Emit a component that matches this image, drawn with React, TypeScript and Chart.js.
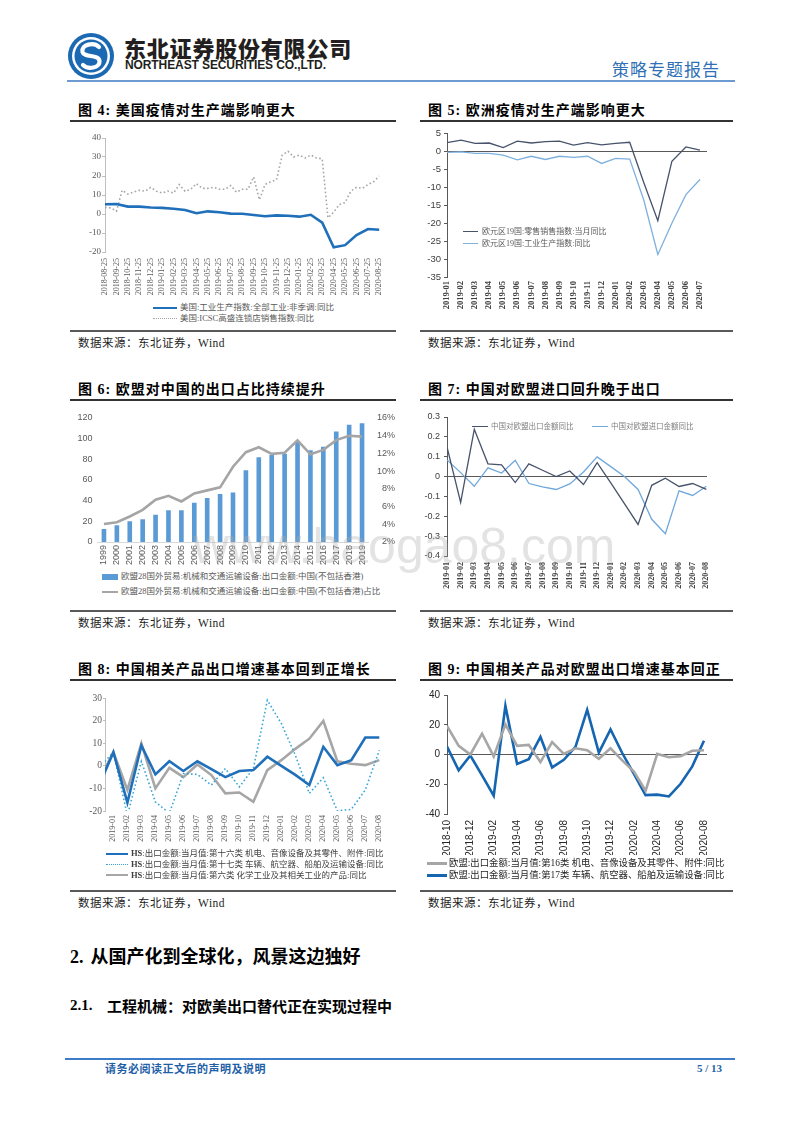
import React, { useEffect, useRef } from 'react';
import { Chart, registerables } from 'chart.js';

Chart.register(...registerables);

const SERIF = "'Liberation Serif', 'Times New Roman', 'Noto Sans CJK SC', serif";
const SANS = "'Liberation Sans', Arial, 'Noto Sans CJK SC', sans-serif";
const CJK = "'Noto Sans CJK SC', 'Liberation Sans', sans-serif";
const MIX = "'Liberation Serif', 'Noto Sans CJK SC', serif";

// ---------- Figure 4 ----------
const f4Labels = [
  '2018-08-25', '2018-09-25', '2018-10-25', '2018-11-25', '2018-12-25',
  '2019-01-25', '2019-02-25', '2019-03-25', '2019-04-25', '2019-05-25', '2019-06-25',
  '2019-07-25', '2019-08-25', '2019-09-25', '2019-10-25', '2019-11-25', '2019-12-25',
  '2020-01-25', '2020-02-25', '2020-03-25', '2020-04-25', '2020-05-25', '2020-06-25',
  '2020-07-25', '2020-08-25',
];
const f4Industrial = [5.1, 5.3, 3.9, 3.9, 3.4, 3.2, 2.8, 2.1, 0.4, 1.4, 0.9, 0.2, 0.1, -0.5, -1.2, -0.7, -0.9, -1.4, -0.4, -4.6, -17.5, -16.4, -11.1, -7.9, -8.3];
// ICSC index, read twice per month
const f4ICSC = [3.5, 3.2, 1.5, 12.5, 10.5, 11.5, 12.5, 12, 14, 12, 11, 12, 11, 15.5, 12, 13, 16, 13.5, 13.5, 14, 13, 13, 15, 11.5, 13, 13, 19.5, 7.5, 15.5, 17, 18, 31, 33, 30, 31, 29.5, 31, 29.5, 29, -2, 1, 5, 6, 12, 14, 13.5, 15.5, 17, 20];

// ---------- Figure 5 ----------
const f5Labels = ['2019-01', '2019-02', '2019-03', '2019-04', '2019-05', '2019-06', '2019-07', '2019-08', '2019-09', '2019-10', '2019-11', '2019-12', '2020-01', '2020-02', '2020-03', '2020-04', '2020-05', '2020-06', '2020-07'];
const f5Retail = [2.5, 3.2, 2.3, 2.4, 1.1, 2.9, 2.4, 2.8, 2.9, 1.8, 2.5, 1.9, 2.3, 2.6, -8.6, -19.3, -2.7, 1.3, 0.4];
const f5Industry = [-0.2, -0.1, -0.5, -0.5, -1.0, -2.3, -1.3, -2.2, -1.3, -1.6, -1.3, -3.3, -1.9, -2.1, -13.5, -28.7, -20.0, -12.0, -7.8];

// ---------- Figure 6 ----------
const f6Years = ['1999', '2000', '2001', '2002', '2003', '2004', '2005', '2006', '2007', '2008', '2009', '2010', '2011', '2012', '2013', '2014', '2015', '2016', '2017', '2018', '2019'];
const f6Exports = [12.6, 16.2, 20.1, 22, 26.3, 30.8, 30.8, 38, 42.5, 46.4, 48, 69.4, 82, 84.3, 85.3, 97.3, 88.9, 92.1, 107, 113.5, 115];
const f6Share = [4.04, 4.23, 4.88, 5.63, 6.77, 7.22, 6.58, 7.49, 7.83, 8.17, 10.5, 12.14, 12.7, 11.95, 12.07, 13.47, 11.9, 12.4, 13.5, 14.0, 13.9];

// ---------- Figure 7 ----------
const f7Labels = ['2019-01', '2019-02', '2019-03', '2019-04', '2019-05', '2019-06', '2019-07', '2019-08', '2019-09', '2019-10', '2019-11', '2019-12', '2020-01', '2020-02', '2020-03', '2020-04', '2020-05', '2020-06', '2020-07', '2020-08'];
const f7Export = [0.149, -0.13, 0.238, 0.064, 0.059, -0.03, 0.064, 0.032, 0.0, 0.028, -0.04, 0.07, -0.032, -0.136, -0.241, -0.044, -0.008, -0.05, -0.035, -0.064];
const f7Import = [0.084, 0.02, -0.049, 0.044, 0.018, 0.082, -0.035, -0.052, -0.065, -0.037, 0.023, 0.099, 0.05, 0.0, -0.065, -0.215, -0.288, -0.072, -0.095, -0.049];

// ---------- Figure 8 ----------
// first value is 2018-12, only partly visible at the left edge
const f8Labels = ['2019-01', '2019-02', '2019-03', '2019-04', '2019-05', '2019-06', '2019-07', '2019-08', '2019-09', '2019-10', '2019-11', '2019-12', '2020-01', '2020-02', '2020-03', '2020-04', '2020-05', '2020-06', '2020-07', '2020-08'];
const f8Mech = [-8.3, 6, -16.3, 9, -3.8, 2, -2.3, 2, -1.5, -5, -2.3, -1.9, 4, 0, -4, -8.5, 8.4, 0.3, 2.5, 12.5, 12.5];
const f8Vehicle = [-0.7, 6, -22, 2, -16, -21, -3.5, -3.8, -8.5, -1.2, -9.3, -1.2, 29, 18.7, 4.7, -12.2, -5.3, -19.9, -19.3, -10.7, 6.9];
const f8Chem = [-6, 6, -10.7, 9.9, -10, -0.9, -5, 0.6, -4.1, -12.2, -11.8, -15.9, -1.9, 2.5, 7.5, 12, 19.9, 2, 0.9, 0.3, 2.5];

// ---------- Figure 9 ----------
const f9Labels = ['2018-10', '2018-11', '2018-12', '2019-01', '2019-02', '2019-03', '2019-04', '2019-05', '2019-06', '2019-07', '2019-08', '2019-09', '2019-10', '2019-11', '2019-12', '2020-01', '2020-02', '2020-03', '2020-04', '2020-05', '2020-06', '2020-07', '2020-08'];
const f9Mech = [19.2, 5.8, 0, 14, -1.3, 20.3, 5.8, 6.5, -5.1, 8.3, 0.4, 4.2, 2.9, -2.9, 4.2, -4, -11.4, -24.4, 0.4, -1.8, -1.1, 2.5, 2.9];
const f9Vehicle = [5.4, -10.7, -0.7, -14, -27.7, 32.8, -6.3, -3.1, 11.8, -8.7, -3.6, 5.1, 30, 1.3, 16.8, 1, -13, -27.3, -27, -28.2, -19.7, -8, 9.2];

// ---------- helpers ----------
const xy = (arr: number[], offset = 0, step = 1) => arr.map((y, i) => ({ x: i * step + offset, y }));
const ds = (data: any, color: string, width: number, dash: number[] = []) => ({
  data, borderColor: color, backgroundColor: color, borderWidth: width, borderDash: dash,
  pointRadius: 0, tension: 0, fill: false,
});
const base = (pad: any) => ({
  responsive: false, animation: false, events: [],
  layout: { padding: pad },
  plugins: { legend: { display: false }, tooltip: { enabled: false }, title: { display: false } },
});
const monthX = (labels: string[], min: number, max: number, h: number, pad: number, font: any, color: string, every = 1) => ({
  type: 'linear', min, max,
  afterBuildTicks: (s: any) => { s.ticks = labels.map((_, i) => ({ value: i })).filter((t) => t.value % every === 0); },
  afterFit: (s: any) => { s.height = h; },
  grid: { display: false, drawTicks: false },
  border: { display: false },
  ticks: { autoSkip: false, minRotation: 90, maxRotation: 90, padding: pad, color, font, callback: (v: any) => labels[v] ?? '' },
});
const zeroGrid = (c: string) => ({
  drawOnChartArea: true, drawTicks: true, tickLength: 3, tickColor: c, lineWidth: 1,
  color: (ctx: any) => (ctx.tick && Math.abs(ctx.tick.value) < 1e-9 ? c : 'rgba(0,0,0,0)'),
});

const cfg4 = () => ({
  type: 'line',
  data: { datasets: [ds(xy(f4Industrial), '#1f6fba', 2.6), ds(xy(f4ICSC, 0, 0.5), '#a6a6a6', 1.6, [1.6, 2.4])] },
  options: {
    ...base({ top: 13, right: 10, left: 0, bottom: 0 }),
    scales: {
      x: monthX(f4Labels, 0, 24, 48, 6, { family: SERIF, size: 8 }, '#595959'),
      y: {
        min: -20, max: 40, afterFit: (s: any) => { s.width = 35; },
        grid: { drawOnChartArea: false, drawTicks: true, tickLength: 3, tickColor: '#bfbfbf', color: '#bfbfbf' },
        border: { display: true, color: '#bfbfbf' },
        ticks: { stepSize: 10, padding: 1, color: '#595959', font: { family: SERIF, size: 9 } },
      },
    },
  },
});

const cfg5 = () => ({
  type: 'line',
  data: { datasets: [ds(xy(f5Retail), '#46536a', 1.3), ds(xy(f5Industry), '#7eb1de', 1.3)] },
  options: {
    ...base({ top: 6, right: 28, left: 0, bottom: 0 }),
    scales: {
      x: monthX(f5Labels, 0, 18.5, 53, 4, { family: SERIF, size: 8.5, weight: 'bold' }, '#404040'),
      y: {
        min: -35, max: 5, afterFit: (s: any) => { s.width = 27; },
        grid: zeroGrid('#595959'),
        border: { display: true, color: '#595959' },
        ticks: { stepSize: 5, padding: 3, color: '#404040', font: { family: SANS, size: 9.5 } },
      },
    },
  },
});

const cfg6 = () => ({
  type: 'bar',
  data: {
    labels: f6Years,
    datasets: [
      { type: 'line', data: f6Share, borderColor: '#a5a5a5', backgroundColor: '#a5a5a5', borderWidth: 2.6, pointRadius: 0, tension: 0, yAxisID: 'y1', order: 1 },
      { type: 'bar', data: f6Exports, backgroundColor: '#5b9bd5', barPercentage: 0.36, categoryPercentage: 1, yAxisID: 'y', order: 2 },
    ],
  },
  options: {
    ...base({ top: 13, right: 0, left: 0, bottom: 0 }),
    scales: {
      x: {
        type: 'category', offset: true, afterFit: (s: any) => { s.height = 28; },
        grid: { display: false, drawTicks: false },
        border: { display: true, color: '#d9d9d9' },
        ticks: { autoSkip: false, minRotation: 90, maxRotation: 90, padding: 3, color: '#595959', font: { family: SANS, size: 9 } },
      },
      y: {
        position: 'left', min: 0, max: 120, afterFit: (s: any) => { s.width = 27.5; },
        grid: { display: false, drawTicks: false }, border: { display: false },
        ticks: { stepSize: 20, padding: 5, color: '#595959', font: { family: SANS, size: 9 } },
      },
      y1: {
        position: 'right', min: 2, max: 16, afterFit: (s: any) => { s.width = 26.5; },
        grid: { display: false, drawTicks: false }, border: { display: false },
        ticks: { stepSize: 2, padding: 3.5, crossAlign: 'far', color: '#595959', font: { family: SANS, size: 9 }, callback: (v: any) => v + '%' },
      },
    },
  },
});

const cfg7 = () => ({
  type: 'line',
  data: { datasets: [ds(xy(f7Export), '#46536a', 1.3), ds(xy(f7Import), '#6fa8dc', 1.3)] },
  options: {
    ...base({ top: 12, right: 28, left: 0, bottom: 0 }),
    scales: {
      x: monthX(f7Labels, 0, 19.05, 49, 6, { family: SERIF, size: 8, weight: 'bold' }, '#404040'),
      y: {
        min: -0.4, max: 0.3, afterFit: (s: any) => { s.width = 27; },
        grid: zeroGrid('#595959'),
        border: { display: true, color: '#595959' },
        ticks: { stepSize: 0.1, padding: 4, color: '#404040', font: { family: SANS, size: 9 }, callback: (v: any) => String(Number(Number(v).toFixed(1))) },
      },
    },
  },
});

const cfg8 = () => ({
  type: 'line',
  data: {
    datasets: [
      ds(xy(f8Mech, -1), '#1f6fba', 2.6),
      ds(xy(f8Vehicle, -1), '#3aa6d8', 1.6, [1.6, 2.4]),
      ds(xy(f8Chem, -1), '#a6a6a6', 2.6),
    ],
  },
  options: {
    ...base({ top: 13, right: 15, left: 0, bottom: 0 }),
    scales: {
      x: monthX(f8Labels, -0.6, 19.05, 39, 4, { family: SERIF, size: 8 }, '#595959'),
      y: {
        min: -20, max: 30, afterFit: (s: any) => { s.width = 35; },
        grid: { drawOnChartArea: false, drawTicks: true, tickLength: 2, tickColor: '#bfbfbf', color: '#bfbfbf' },
        border: { display: true, color: '#bfbfbf' },
        ticks: { stepSize: 5, padding: 1, color: '#595959', font: { family: SERIF, size: 9.5 } },
      },
    },
  },
});

const cfg9 = () => ({
  type: 'line',
  data: { datasets: [ds(xy(f9Mech), '#a6a6a6', 2.6), ds(xy(f9Vehicle), '#1565b0', 2.6)] },
  options: {
    ...base({ top: 10, right: 28, left: 0, bottom: 0 }),
    scales: {
      x: monthX(f9Labels, 0, 22.26, 41, 6, { family: SANS, size: 10 }, '#262626', 2),
      y: {
        min: -40, max: 40, afterFit: (s: any) => { s.width = 27; },
        grid: zeroGrid('#595959'),
        border: { display: true, color: '#595959' },
        ticks: { stepSize: 10, padding: 4, color: '#262626', font: { family: SANS, size: 10 } },
      },
    },
  },
});

function ChartCanvas({ left, top, width, height, build }: any) {
  const ref = useRef<HTMLCanvasElement>(null);
  useEffect(() => {
    const chart = new Chart(ref.current as HTMLCanvasElement, build());
    return () => chart.destroy();
  }, []);
  return (
    <canvas ref={ref} width={width} height={height}
      style={{ position: 'absolute', left, top, width, height, display: 'block' }} />
  );
}

const T = ({ x, y, size, children, color = '#000', weight = 400, family = CJK, ls = 0 }: any) => (
  <div style={{
    position: 'absolute', left: x, top: y - size * 0.65, fontSize: size, lineHeight: `${size * 1.3}px`,
    color, fontWeight: weight, fontFamily: family, letterSpacing: ls, whiteSpace: 'nowrap',
  }}>{children}</div>
);
const HL = ({ x, y, w, h, color }: any) => (
  <div style={{ position: 'absolute', left: x, top: y - h / 2, width: w, height: h, background: color }} />
);
const Sw = ({ x, y, w, color, thick = 2, dotted = false, bar = false }: any) =>
  bar ? (
    <div style={{ position: 'absolute', left: x, top: y - 3, width: w, height: 6, background: color }} />
  ) : (
    <div style={{ position: 'absolute', left: x, top: y - thick / 2, width: w, height: 0, borderTop: `${thick}px ${dotted ? 'dotted' : 'solid'} ${color}` }} />
  );

const Panel = ({ x, w, titleY, title, bottomY }: any) => (
  <>
    <T x={x + 8} y={titleY} size={14} weight={700} family={MIX} ls={1}>{title}</T>
    <HL x={x} y={titleY + 10} w={w} h={1.5} color="#333" />
    <HL x={x} y={bottomY} w={w} h={2} color="#595959" />
    <T x={x + 8} y={bottomY + 12} size={11.5} color="#222" family={MIX} ls={0.5}>数据来源：东北证券，Wind</T>
  </>
);

export default function App() {
  return (
    <div style={{ position: 'absolute', left: 0, top: 0, width: 800, height: 1132, background: '#fff', overflow: 'hidden', fontFamily: CJK }}>
      {/* header */}
      <svg style={{ position: 'absolute', left: 67, top: 32 }} width={48} height={48} viewBox="0 0 48 48">
        <circle cx={24} cy={24} r={23} fill="#1b68b3" />
        <circle cx={24} cy={24} r={19} fill="#fff" />
        <circle cx={24} cy={24} r={16.5} fill="#1b68b3" />
        <path d="M 32 15 C 27 10, 14 12, 15.5 20 C 17 26, 32 22, 32.5 29 C 33 36, 21 38, 16 33" stroke="#fff" strokeWidth={4.2} fill="none" strokeLinecap="round" />
      </svg>
      <T x={124} y={47.5} size={22} weight={900} color="#231f20" ls={0.8}>东北证券股份有限公司</T>
      <T x={125} y={66} size={12} weight={700} color="#231f20" family={SANS} ls={-0.1}>NORTHEAST SECURITIES CO.,LTD.</T>
      <T x={612} y={69} size={17} color="#2e6fb5" ls={1}>策略专题报告</T>
      <HL x={67} y={81} w={668} h={2} color="#6d9bd1" />

      {/* panels */}
      <Panel x={70} w={326} titleY={111} title="图 4: 美国疫情对生产端影响更大" bottomY={331} />
      <Panel x={420} w={313} titleY={111} title="图 5: 欧洲疫情对生产端影响更大" bottomY={331} />
      <Panel x={70} w={326} titleY={390} title="图 6: 欧盟对中国的出口占比持续提升" bottomY={611} />
      <Panel x={420} w={313} titleY={390} title="图 7: 中国对欧盟进口回升晚于出口" bottomY={611} />
      <Panel x={70} w={326} titleY={670} title="图 8: 中国相关产品出口增速基本回到正增长" bottomY={891} />
      <Panel x={420} w={313} titleY={670} title="图 9: 中国相关产品对欧盟出口增速基本回正" bottomY={891} />

      {/* charts */}
      <ChartCanvas left={70} top={125} width={325} height={175} build={cfg4} />
      <ChartCanvas left={420} top={125} width={315} height={205} build={cfg5} />
      <ChartCanvas left={70} top={405} width={325} height={165} build={cfg6} />
      <ChartCanvas left={420} top={405} width={315} height={200} build={cfg7} />
      <ChartCanvas left={70} top={685} width={325} height={165} build={cfg8} />
      <ChartCanvas left={420} top={685} width={315} height={170} build={cfg9} />

      {/* legends fig 4 */}
      <Sw x={153} y={308} w={24} color="#1f6fba" thick={2.5} />
      <T x={180} y={308} size={8.5} color="#595959" family={MIX}>美国:工业生产指数:全部工业:非季调:同比</T>
      <Sw x={153} y={318.5} w={24} color="#a6a6a6" thick={1.5} dotted />
      <T x={180} y={318.5} size={8.5} color="#595959" family={MIX}>美国:ICSC高盛连锁店销售指数:同比</T>

      {/* legends fig 5 */}
      <Sw x={463} y={232} w={15} color="#46536a" thick={1.3} />
      <T x={482} y={232} size={8} color="#595959" family={MIX}>欧元区19国:零售销售指数:当月同比</T>
      <Sw x={463} y={244} w={15} color="#7eb1de" thick={1.3} />
      <T x={482} y={244} size={8} color="#595959" family={MIX}>欧元区19国:工业生产指数:同比</T>

      {/* legends fig 6 */}
      <Sw x={102} y={577} w={16} color="#5b9bd5" bar />
      <T x={121} y={577} size={8.5} color="#595959" family={MIX}>欧盟28国外贸易:机械和交通运输设备:出口金额:中国(不包括香港)</T>
      <Sw x={102} y={592} w={16} color="#a5a5a5" thick={2.5} />
      <T x={121} y={592} size={8.5} color="#595959" family={MIX}>欧盟28国外贸易:机械和交通运输设备:出口金额:中国(不包括香港)占比</T>

      {/* legends fig 7 */}
      <Sw x={472} y={427} w={16} color="#46536a" thick={1.3} />
      <T x={491} y={427} size={7.5} color="#7f7f7f" family={MIX}>中国对欧盟出口金额同比</T>
      <Sw x={592} y={427} w={16} color="#6fa8dc" thick={1.3} />
      <T x={611} y={427} size={7.5} color="#7f7f7f" family={MIX}>中国对欧盟进口金额同比</T>

      {/* legends fig 8 */}
      <Sw x={106} y={854} w={22} color="#1f6fba" thick={2.5} />
      <T x={131} y={854} size={8.5} color="#404040" family={MIX}><b>HS</b>:出口金额:当月值:第十六类 机电、音像设备及其零件、附件:同比</T>
      <Sw x={106} y={865} w={22} color="#3aa6d8" thick={1.5} dotted />
      <T x={131} y={865} size={8.5} color="#404040" family={MIX}><b>HS</b>:出口金额:当月值:第十七类 车辆、航空器、船舶及运输设备:同比</T>
      <Sw x={106} y={875.5} w={22} color="#a6a6a6" thick={2.5} />
      <T x={131} y={875.5} size={8.5} color="#404040" family={MIX}><b>HS</b>:出口金额:当月值:第六类 化学工业及其相关工业的产品:同比</T>

      {/* legends fig 9 */}
      <Sw x={427} y={863} w={20} color="#a6a6a6" thick={3} />
      <T x={449} y={863} size={9.4} color="#262626" family={MIX}>欧盟:出口金额:当月值:第16类 机电、音像设备及其零件、附件:同比</T>
      <Sw x={427} y={875} w={20} color="#1565b0" thick={3} />
      <T x={449} y={875} size={9.4} color="#262626" family={MIX}>欧盟:出口金额:当月值:第17类 车辆、航空器、船舶及运输设备:同比</T>

      {/* watermark */}
      <div style={{ position: 'absolute', left: 193, top: 516, fontSize: 50, lineHeight: '60px', fontFamily: SANS, color: 'rgba(170,170,170,0.33)', whiteSpace: 'nowrap', pointerEvents: 'none' }}>www.baogao8.com</div>

      {/* section headings */}
      <div style={{ position: 'absolute', left: 70, top: 943, fontSize: 18, lineHeight: '24px', fontWeight: 700, color: '#000', whiteSpace: 'nowrap' }}>
        <span style={{ fontFamily: SERIF }}>2.</span><span style={{ marginLeft: 7, fontFamily: CJK }}>从国产化到全球化，风景这边独好</span>
      </div>
      <T x={70} y={1006} size={15} weight={700} family={SERIF}>2.1.</T>
      <T x={107} y={1006} size={15} weight={700}>工程机械：对欧美出口替代正在实现过程中</T>

      {/* footer */}
      <HL x={65} y={1059} w={670} h={1.2} color="#3d7cc9" />
      <T x={105} y={1068} size={11} weight={700} color="#1f5fa8" ls={0.5}>请务必阅读正文后的声明及说明</T>
      <T x={697} y={1068} size={11} weight={700} color="#1f5fa8" family={SERIF}>5 / 13</T>
    </div>
  );
}
